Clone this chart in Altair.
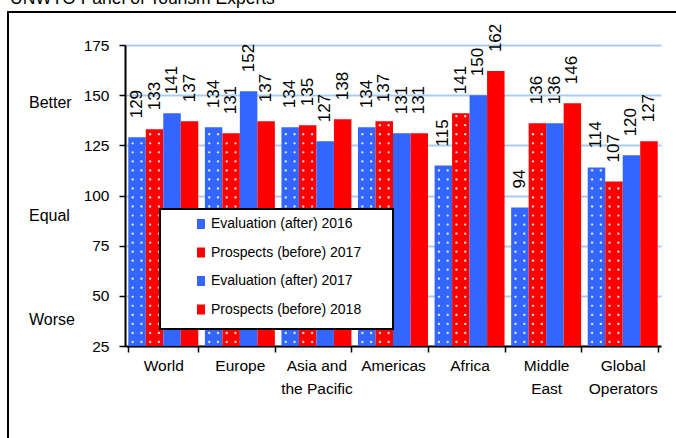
import altair as alt
import pandas as pd

# Regions and their multi-line axis labels
categories = ["World", "Europe", "Asia and the Pacific", "Americas",
              "Africa", "Middle East", "Global Operators"]
category_lines = [["World"], ["Europe"], ["Asia and", "the Pacific"], ["Americas"],
                  ["Africa"], ["Middle", "East"], ["Global", "Operators"]]

# Panel scores per series
series = ["Evaluation (after) 2016", "Prospects (before) 2017",
          "Evaluation (after) 2017", "Prospects (before) 2018"]
eval_2016 = [129, 134, 134, 134, 115, 94, 114]
prosp_2017 = [133, 131, 135, 137, 141, 136, 107]
eval_2017 = [141, 152, 127, 131, 150, 136, 120]
prosp_2018 = [137, 137, 138, 131, 162, 146, 127]
series_values = [eval_2016, prosp_2017, eval_2017, prosp_2018]
series_colors = ["#3366FF", "#FF0000", "#3366FF", "#FF0000"]
dotted_series = series[:2]

y_ticks = [25, 50, 75, 100, 125, 150, 175]
side_labels = ["Better", "Equal", "Worse"]
side_levels = [146, 90, 38]

title_text = "UNWTO Panel of Tourism Experts"

FONT = "Liberation Sans, Arial, sans-serif"

PLOT_W, PLOT_H = 536, 301

rows = []
for s_idx, (name, vals) in enumerate(zip(series, series_values)):
    for cat, v in zip(categories, vals):
        rows.append({"category": cat, "series": name, "idx": s_idx, "value": v})
df = pd.DataFrame(rows)
side_df = pd.DataFrame({"label": side_labels, "level": side_levels})

# axis label expression for line-broken region names
label_expr = "datum.label"
for cat, lines in zip(categories, category_lines):
    if len(lines) > 1:
        arr = "[" + ", ".join("'" + ln + "'" for ln in lines) + "]"
        label_expr = f"datum.label == '{cat}' ? {arr} : ({label_expr})"

x_axis = alt.Axis(title=None, labelAngle=0, labelExpr=label_expr, tickBand="extent",
                  domainColor="black", domainWidth=2, tickColor="black", tickWidth=1.5,
                  tickSize=6, labelFontSize=15.5, labelFont=FONT, labelColor="black",
                  labelPadding=6, labelLineHeight=23, labelBaseline="top", grid=False)
x_enc = alt.X("category:N", sort=categories, axis=x_axis,
              scale=alt.Scale(paddingInner=0.086, paddingOuter=0.043))
xoff_enc = alt.XOffset("series:N", sort=series,
                       scale=alt.Scale(paddingInner=0, paddingOuter=0))

y_scale = alt.Scale(domain=[25, 175], zero=False, nice=False)
y_axis = alt.Axis(title=None, values=y_ticks, grid=True, gridColor="#A9CDF2", gridWidth=2,
                  domainColor="black", domainWidth=2, tickColor="black", tickWidth=1.5,
                  tickSize=6, labelFontSize=15.5, labelFont=FONT, labelColor="black",
                  labelPadding=10)


def y_enc(field):
    return alt.Y(field, scale=y_scale, axis=y_axis)


color_enc = alt.Color(
    "series:N", sort=series,
    scale=alt.Scale(domain=series, range=series_colors),
    legend=alt.Legend(title=None, orient="none", legendX=69, legendY=172,
                      symbolType="M-0.8,-1H0.8V1H-0.8Z", symbolSize=100,
                      symbolStrokeWidth=0, labelFontSize=14, labelFont=FONT,
                      labelColor="black", rowPadding=14.5, labelOffset=3, padding=0,
                      labelLimit=300),
)

base = alt.Chart(df)

bars = base.mark_bar().encode(
    x=x_enc,
    xOffset=xoff_enc,
    y=y_enc("value:Q"),
    y2=alt.datum(25),
    color=color_enc,
)

# white dot pattern on the first two series: a symbol made of two small
# dots side by side, repeated up each bar
DOT_PAIR = ("M-1.27,0a0.27,0.27 0 1,0 0.54,0a0.27,0.27 0 1,0 -0.54,0"
            "M0.73,0a0.27,0.27 0 1,0 0.54,0a0.27,0.27 0 1,0 -0.54,0")
dots = (
    base.transform_filter(alt.FieldOneOfPredicate(field="series", oneOf=dotted_series))
    .transform_calculate(dot_y="sequence(27, datum.value - 1, 4.5)")
    .transform_flatten(["dot_y"])
    .mark_point(shape=DOT_PAIR, filled=True, fill="white", fillOpacity=0.85,
                strokeWidth=0, size=77)
    .encode(x=x_enc, xOffset=xoff_enc, y=y_enc("dot_y:Q"))
)

# rotated value labels above the bars
labels = base.mark_text(angle=270, align="left", baseline="middle", dx=19,
                        fontSize=17, font=FONT, color="black").encode(
    x=x_enc,
    xOffset=xoff_enc,
    y=y_enc("value:Q"),
    text="value:Q",
)

one = alt.Data(values=[{}])

legend_box = alt.Chart(one).mark_rect(fill="white", stroke="black", strokeWidth=2).encode(
    x=alt.value(35), x2=alt.value(268), y=alt.value(164), y2=alt.value(284)
)

outer_frame = alt.Chart(one).mark_rect(fillOpacity=0, stroke="black", strokeWidth=2).encode(
    x=alt.value(-117), x2=alt.value(700), y=alt.value(-33), y2=alt.value(500)
)

title = alt.Chart(one).mark_text(align="left", baseline="alphabetic", fontSize=17.5,
                                  font=FONT, color="black").encode(
    x=alt.value(-115), y=alt.value(-41), text=alt.value(title_text)
)

side = alt.Chart(side_df).mark_text(align="left", baseline="middle", fontSize=16,
                                    font=FONT, color="black").encode(
    x=alt.value(-96), y=y_enc("level:Q"), text="label:N"
)

chart = (
    alt.layer(bars, dots, labels, legend_box, outer_frame, title, side)
    .properties(
        width=PLOT_W, height=PLOT_H,
        autosize=alt.AutoSizeParams(type="none"),
        padding={"left": 125, "top": 45, "right": 15, "bottom": 92},
        background="white",
    )
    .configure_view(stroke=None)
)

chart.save("out.html", embed_options={"renderer": "svg", "actions": False})
